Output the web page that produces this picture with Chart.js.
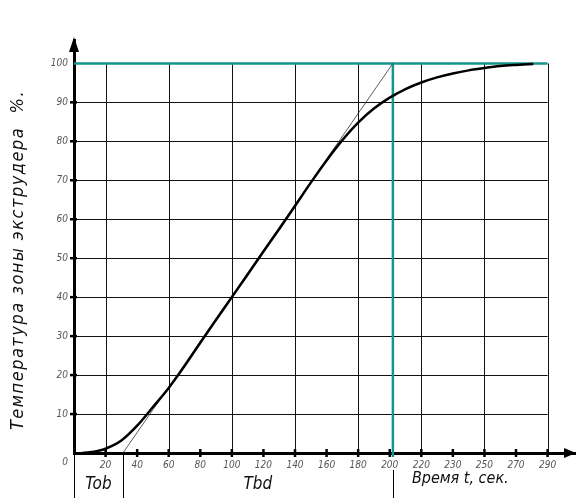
<!DOCTYPE html>
<html>
<head>
<meta charset="utf-8">
<script src="https://cdn.jsdelivr.net/npm/chart.js@4/dist/chart.umd.min.js"></script>
<style>
  html, body { margin: 0; padding: 0; background: #fff; }
  #wrap { width: 576px; height: 498px; position: relative; }
</style>
</head>
<body>
<div id="wrap"><canvas id="tempChart"></canvas></div>
<script>
// Kurve: Zeit (s) und Temperatur (%)
const timeSec = [5, 10, 15, 20, 30, 40, 50, 60, 70, 80, 90, 100, 110, 120, 130, 140, 150, 160, 170, 180, 190, 200, 210, 220, 230, 240, 250, 260, 270, 280, 291];
const tempPct = [0, 0.2, 0.55, 1.1, 3.2, 7, 11.8, 16.7, 22.3, 28.3, 34.2, 40, 45.8, 51.7, 57.5, 63.4, 69.4, 75.1, 80.3, 84.8, 88.4, 91.2, 93.4, 95.1, 96.4, 97.4, 98.2, 98.8, 99.3, 99.6, 99.85];

// Tangente
const tangentT = [31, 202];
const tangentPct = [0, 100];

// Sollwert-Linien
const setPointT = 202;
const setPointPct = 100;
const lineEndT = 300;

// Achsen-Ticks
const xTickValues = [20, 40, 60, 80, 100, 120, 140, 160, 180, 200, 220, 240, 260, 280, 300];
const xTickLabels = ['20', '40', '60', '80', '100', '120', '140', '160', '180', '200', '220', '230', '250', '270', '290'];
const yTickValues = [10, 20, 30, 40, 50, 60, 70, 80, 90, 100];
const yTickLabels = ['10', '20', '30', '40', '50', '60', '70', '80', '90', '100'];

// Gitter
const gridX = [20, 60, 100, 140, 180, 220, 260, 300];
const gridY = [10, 20, 30, 40, 50, 60, 70, 80, 90];

const yTitle = 'Температура зоны экструдера  %.';

const teal = '#14968f';
const fontFam = "'Liberation Sans Narrow', 'DejaVu Sans Condensed', 'Liberation Sans', sans-serif";

const overlay = {
    id: 'overlay',
    beforeDatasetsDraw(chart) {
        const { ctx, scales: { x, y } } = chart;
        ctx.save();
        ctx.strokeStyle = '#111';
        ctx.lineWidth = 1;
        gridX.forEach(v => {
            const px = Math.round(x.getPixelForValue(v)) + 0.5;
            ctx.beginPath();
            ctx.moveTo(px, y.getPixelForValue(0));
            ctx.lineTo(px, y.getPixelForValue(100));
            ctx.stroke();
        });
        gridY.forEach(v => {
            const py = Math.round(y.getPixelForValue(v)) + 0.5;
            ctx.beginPath();
            ctx.moveTo(x.getPixelForValue(0), py);
            ctx.lineTo(x.getPixelForValue(lineEndT), py);
            ctx.stroke();
        });
        ctx.restore();
    },
    afterDraw(chart) {
        const { ctx, chartArea, scales: { x, y } } = chart;
        const x0 = x.getPixelForValue(0);
        const y0 = y.getPixelForValue(0);
        const bottom = chart.height;
        ctx.save();
        ctx.fillStyle = '#000';
        ctx.strokeStyle = '#000';

        // Pfeile
        ctx.beginPath();
        ctx.moveTo(x0, chartArea.top - 3);
        ctx.lineTo(x0 - 5, chartArea.top + 12);
        ctx.lineTo(x0 + 5, chartArea.top + 12);
        ctx.closePath();
        ctx.fill();
        ctx.beginPath();
        ctx.moveTo(chartArea.right, y0);
        ctx.lineTo(chartArea.right - 12, y0 - 5);
        ctx.lineTo(chartArea.right - 12, y0 + 5);
        ctx.closePath();
        ctx.fill();

        // Tick-Striche
        ctx.lineWidth = 2.5;
        xTickValues.forEach(v => {
            const px = x.getPixelForValue(v);
            ctx.beginPath();
            ctx.moveTo(px, y0 - 4);
            ctx.lineTo(px, y0 + 4);
            ctx.stroke();
        });
        yTickValues.slice(0, -1).forEach(v => {
            const py = y.getPixelForValue(v);
            ctx.beginPath();
            ctx.moveTo(x0 - 4, py);
            ctx.lineTo(x0 + 3, py);
            ctx.stroke();
        });

        // Linien unter der Achse
        ctx.lineWidth = 1;
        [0, tangentT[0], setPointT].forEach(v => {
            const px = Math.round(x.getPixelForValue(v)) + 0.5;
            ctx.beginPath();
            ctx.moveTo(px, v === setPointT ? y0 + 17 : y0);
            ctx.lineTo(px, bottom);
            ctx.stroke();
        });

        // Texte
        ctx.fillStyle = '#555';
        ctx.font = `italic 10px ${fontFam}`;
        ctx.textAlign = 'right';
        ctx.textBaseline = 'middle';
        ctx.fillText('0', x0 - 6, y0 + 9);

        ctx.fillStyle = '#111';
        ctx.textAlign = 'center';
        ctx.font = `italic 17px ${fontFam}`;
        ctx.fillText('Tob', (x0 + x.getPixelForValue(tangentT[0])) / 2, y0 + 32);
        ctx.fillText('Tbd', (x.getPixelForValue(tangentT[0]) + x.getPixelForValue(setPointT)) / 2, y0 + 32);
        ctx.textAlign = 'left';
        ctx.font = `italic 16px ${fontFam}`;
        ctx.fillText('Время t, сек.', x.getPixelForValue(setPointT) + 19, y0 + 26);

        // Y-Titel
        ctx.save();
        ctx.translate(18, 260);
        ctx.rotate(-Math.PI / 2);
        ctx.font = `italic 18px ${fontFam}`;
        const w = ctx.measureText(yTitle).width;
        ctx.letterSpacing = Math.max(0, (340 - w) / yTitle.length).toFixed(2) + 'px';
        ctx.textAlign = 'center';
        ctx.fillText(yTitle, 0, 0);
        ctx.restore();

        ctx.restore();
    }
};

const ctx = document.getElementById('tempChart').getContext('2d');
new Chart(ctx, {
    type: 'line',
    data: {
        datasets: [
            {
                data: timeSec.map((t, i) => ({ x: t, y: tempPct[i] })),
                borderColor: '#000',
                borderWidth: 2.5,
                cubicInterpolationMode: 'monotone',
                pointRadius: 0,
                fill: false,
                order: 1
            },
            {
                data: tangentT.map((t, i) => ({ x: t, y: tangentPct[i] })),
                borderColor: '#333',
                borderWidth: 0.8,
                pointRadius: 0,
                fill: false,
                order: 2
            },
            {
                data: [{ x: 0, y: setPointPct }, { x: lineEndT, y: setPointPct }],
                borderColor: teal,
                borderWidth: 2.5,
                pointRadius: 0,
                fill: false,
                order: 3
            },
            {
                data: [{ x: setPointT, y: setPointPct }, { x: setPointT, y: -1 }],
                borderColor: teal,
                borderWidth: 2.5,
                pointRadius: 0,
                fill: false,
                clip: false,
                order: 3
            }
        ]
    },
    options: {
        responsive: true,
        maintainAspectRatio: false,
        animation: false,
        layout: { padding: { top: 40, left: 0, right: 0, bottom: 0 } },
        plugins: { legend: { display: false }, tooltip: { enabled: false } },
        scales: {
            x: {
                type: 'linear',
                min: 0,
                max: 318,
                afterBuildTicks: s => { s.ticks = xTickValues.map(v => ({ value: v })); },
                afterFit: s => { s.height = 45; },
                ticks: {
                    autoSkip: false,
                    maxRotation: 0,
                    padding: 6,
                    color: '#555',
                    font: { family: fontFam, size: 10, style: 'italic' },
                    callback: v => xTickLabels[xTickValues.indexOf(v)]
                },
                grid: { display: false, drawTicks: false },
                border: { display: true, width: 3, color: '#000' }
            },
            y: {
                type: 'linear',
                min: 0,
                max: 106,
                afterBuildTicks: s => { s.ticks = yTickValues.map(v => ({ value: v })); },
                afterFit: s => { s.width = 74; },
                ticks: {
                    autoSkip: false,
                    padding: 6,
                    color: '#555',
                    font: { family: fontFam, size: 10, style: 'italic' },
                    callback: v => yTickLabels[yTickValues.indexOf(v)]
                },
                grid: { display: false, drawTicks: false },
                border: { display: true, width: 3, color: '#000' }
            }
        }
    },
    plugins: [overlay]
});
</script>
</body>
</html>
